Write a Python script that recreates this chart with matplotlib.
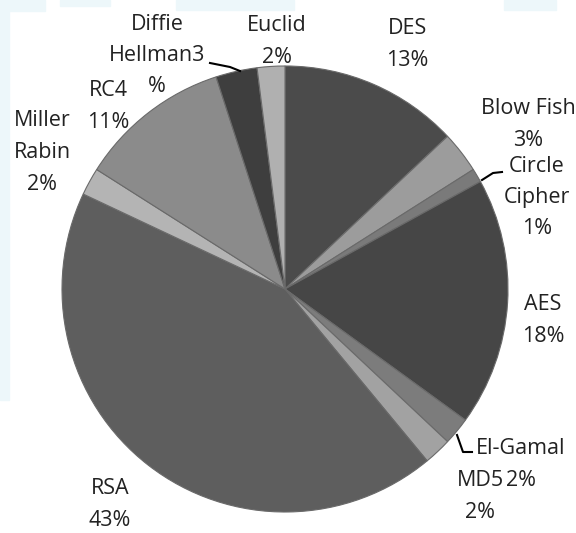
import matplotlib
matplotlib.use("Agg")
import matplotlib.pyplot as plt
from matplotlib.patches import Rectangle

# slices, clockwise from 12 o'clock
labels = ["DES", "Blow Fish", "Circle\nCipher", "AES", "El-Gamal", "MD5",
          "RSA", "Miller\nRabin", "RC4", "Diffie\nHellman", "Euclid"]
shares = [13, 3, 1, 18, 2, 2, 43, 2, 11, 3, 2]
colors = ["#4b4b4b", "#9c9c9c", "#7a7a7a", "#464646", "#7c7c7c", "#a2a2a2",
          "#5e5e5e", "#b4b4b4", "#8b8b8b", "#3e3e3e", "#b0b0b0"]

# label texts as printed on the chart (block centres in pixels, top-left origin)
label_text = ["DES\n13%", "Blow Fish\n3%", "Circle\nCipher\n1%", "AES\n18%",
              "El-Gamal\n2%", "MD5\n2%", "RSA\n43%", "Miller\nRabin\n2%",
              "RC4\n11%", "Diffie\nHellman3\n%", "Euclid\n2%"]
label_pos = [(407, 42), (528, 122), (537, 195), (543, 318), (521, 462),
             (480, 494), (110, 502), (42, 150), (108, 104), (157, 53), (277, 39)]
LINE_STEP = 31.5

W, H = 576, 533
CX, CY, R = 285, 289, 223

plt.rcParams["font.family"] = ["Open Sans", "DejaVu Sans"]

fig = plt.figure(figsize=(W / 100, H / 100), dpi=100)
fig.patch.set_facecolor("white")

# faint watermark remains along the top and left edge
for x0, y0, w, h in [(0, 0, 45, 11), (60, 0, 50, 6), (176, 0, 118, 10),
                     (504, 0, 52, 10), (0, 0, 9, 400)]:
    fig.patches.append(Rectangle((x0 / W, 1 - (y0 + h) / H), w / W, h / H,
                                 transform=fig.transFigure,
                                 color="#edf7fa", zorder=0))

ax = fig.add_axes([0, 0, 1, 1])

wedges, _ = ax.pie(shares, colors=colors, startangle=90, counterclock=False,
                   center=(CX, H - CY), radius=R, frame=True,
                   wedgeprops=dict(edgecolor="#6a6a6a", linewidth=0.8))
ax.set_xlim(0, W)
ax.set_ylim(0, H)
ax.set_aspect("equal")
ax.axis("off")

# one text per line so the label lines sit as in the original
for txt, (px, py) in zip(label_text, label_pos):
    lines = txt.split("\n")
    top = py - LINE_STEP * (len(lines) - 1) / 2
    for i, line in enumerate(lines):
        ax.text(px, H - (top + i * LINE_STEP), line, ha="center",
                va="center_baseline", fontsize=15.5, color="#222222")

# leader lines for the small slices
leaders = [
    [(210, 63), (230, 67), (240, 71)],
    [(482, 180), (493, 173), (502, 172)],
    [(457, 435), (463, 452), (472, 452)],
]
for pts in leaders:
    ax.plot([p[0] for p in pts], [H - p[1] for p in pts], color="black", lw=1.5)

fig.savefig("out.png", dpi=100)
